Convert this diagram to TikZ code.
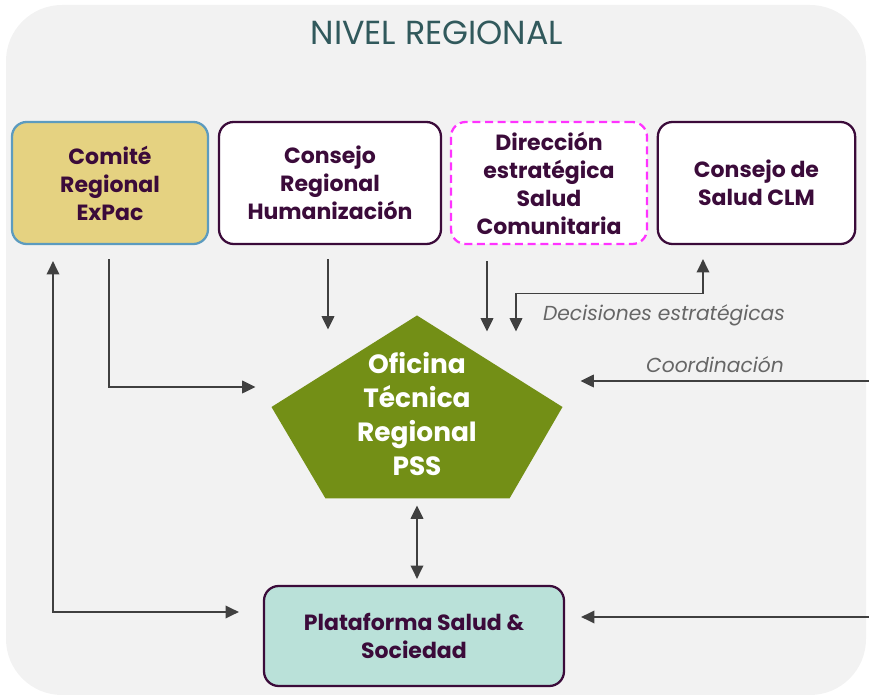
\documentclass[tikz,border=0pt]{standalone}
\usepackage{fontspec}
\setmainfont{Poppins}
\usetikzlibrary{calc,arrows.meta}

\definecolor{bggrey}{HTML}{F2F2F2}
\definecolor{titleteal}{HTML}{31595C}
\definecolor{txtpurple}{HTML}{3B0B3A}
\definecolor{goldfill}{HTML}{E5D281}
\definecolor{goldline}{HTML}{5C9BBF}
\definecolor{dirmagenta}{HTML}{FF33FF}
\definecolor{otrgreen}{HTML}{738F16}
\definecolor{pssfill}{HTML}{BAE1D9}
\definecolor{arrgrey}{HTML}{404040}
\definecolor{lblgrey}{HTML}{666666}

\tikzset{every picture/.style={line width=0.75pt}}
\tikzset{
  organo/.style={draw=txtpurple, line width=1.7pt, fill=white, rounded corners=11pt,
    minimum height=91.5pt, align=center, text=txtpurple, font=\fontsize{16.5}{21}\selectfont\bfseries},
  flujo/.style={draw=arrgrey, line width=1.1pt, arrows={-Triangle[length=10pt,width=9.5pt]}},
  flujodoble/.style={flujo, arrows={Triangle[length=10pt,width=9.5pt]-Triangle[length=10pt,width=9.5pt]}},
  etiqueta/.style={text=lblgrey, font=\fontsize{15.2}{17}\selectfont\itshape}
}

\begin{document}
\begin{tikzpicture}[x=0.75pt,y=0.75pt,yscale=-1,xscale=1]
\useasboundingbox (0,0) rectangle (869,698);

%Background
\fill [bggrey, rounded corners=42pt] (6,5) rectangle (866,695);

% Title
\node (titulo) at (437,33) [text=titleteal, font=\fontsize{25}{28}\selectfont] {NIVEL REGIONAL};

%Rounded Rect
\node (cre) at (110,183) [organo, fill=goldfill, draw=goldline, minimum width=147pt] {Comité\\Regional\\ExPac};
%Rounded Rect
\node (crh) at (330,183) [organo, minimum width=166.5pt] {Consejo\\Regional\\Humanización};
%Rounded Rect
\node (dsc) at (549,183) [organo, draw=dirmagenta, dash pattern=on 6pt off 3.5pt, minimum width=147pt] {Dirección\\estratégica\\Salud\\Comunitaria};
%Rounded Rect
\node (csc) at (756.5,183) [organo, minimum width=148pt] {Consejo de\\Salud CLM};

%Pentagon
\node (otr) at (417,407) [minimum width=217.5pt, minimum height=136.5pt, inner sep=0pt] {};
\fill [otrgreen] (otr.north) -- (otr.east) -- ($(otr.south east)+(-53,0)$) -- ($(otr.south west)+(54,0)$) -- (otr.west) -- cycle;
\node (otrtxt) at (417,414) [text=white, align=center, font=\fontsize{19.8}{25.5}\selectfont\bfseries] {Oficina\\Técnica\\Regional\\PSS};

%Rounded Rect
\node (pss) at (414,636) [organo, fill=pssfill, minimum width=225pt, minimum height=75pt] {Plataforma Salud \&\\Sociedad};

% free ends
\coordinate (ecoord) at (869,381);
\coordinate (epss) at (869,617);

%Straight Lines
\draw [flujodoble] ($(cre.south)+(-57,16)$) |- ($(pss.west)+(-24,-24)$);
\draw [flujo] ($(cre.south)+(-1,14)$) |- ($(otr.west)+(-16,-20)$);
\draw [flujo] ($(crh.south)+(-2,14)$) -- ($(otr.north)+(-89,14)$);
\draw [flujo] ($(dsc.south)+(-62,16)$) -- ($(otr.north)+(70,16)$);
\draw [flujodoble] ($(otr.north)+(99,16)$) -- ++(0,-38) -| ($(csc.south)+(-53.5,14)$);
\draw [flujo] (ecoord) -- ($(otr.east)+(18,-26)$);
\draw [flujodoble] ($(otr.south)+(0,7)$) -- ($(pss.north)+(3,-6)$);
\draw [flujo] (epss) -- ($(pss.east)+(16,-19)$);

% Text Node
\node (ldec) at (664,315) [etiqueta] {Decisiones estratégicas};
% Text Node
\node (lcoo) at (715,365) [etiqueta] {Coordinación};

\end{tikzpicture}
\end{document}
